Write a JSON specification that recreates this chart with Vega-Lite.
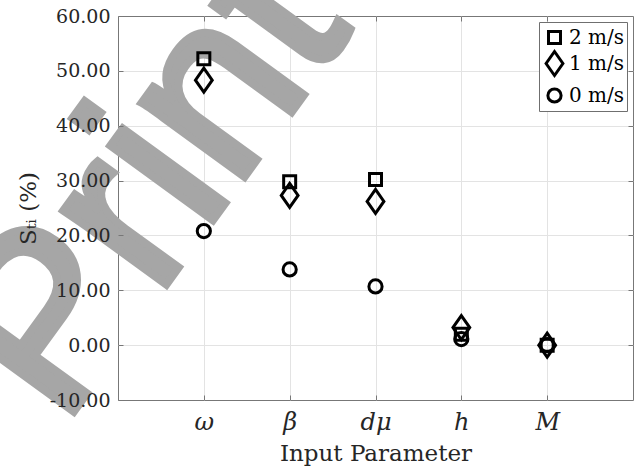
{
  "$schema": "https://vega.github.io/schema/vega-lite/v6.json",
  "width": 515,
  "height": 384,
  "autosize": "none",
  "padding": {"left": 118, "top": 16, "right": 9, "bottom": 70},
  "background": "white",
  "config": {
    "view": {"stroke": "#777777", "strokeWidth": 1},
    "font": "DejaVu Serif"
  },
  "data": {
    "values": [
      {"param": "ω", "speed": "0 m/s", "value": 20.8},
      {"param": "β", "speed": "0 m/s", "value": 13.8},
      {"param": "dμ", "speed": "0 m/s", "value": 10.7},
      {"param": "h", "speed": "0 m/s", "value": 1.1},
      {"param": "M", "speed": "0 m/s", "value": 0.0},
      {"param": "ω", "speed": "2 m/s", "value": 52.2},
      {"param": "β", "speed": "2 m/s", "value": 29.8},
      {"param": "dμ", "speed": "2 m/s", "value": 30.2},
      {"param": "h", "speed": "2 m/s", "value": 2.0},
      {"param": "M", "speed": "2 m/s", "value": 0.0},
      {"param": "ω", "speed": "1 m/s", "value": 48.3},
      {"param": "β", "speed": "1 m/s", "value": 27.3},
      {"param": "dμ", "speed": "1 m/s", "value": 26.2},
      {"param": "h", "speed": "1 m/s", "value": 3.2},
      {"param": "M", "speed": "1 m/s", "value": 0.0}
    ]
  },
  "layer": [
    {
      "data": {"values": [{"label": "Print"}]},
      "mark": {
        "type": "text",
        "font": "Liberation Sans",
        "fontWeight": "normal",
        "fontSize": 240,
        "angle": -54,
        "dx": 6,
        "color": "#a6a6a6",
        "stroke": "#a6a6a6",
        "strokeWidth": 8,
        "strokeJoin": "miter",
        "align": "center",
        "baseline": "alphabetic"
      },
      "encoding": {
        "text": {"field": "label", "type": "nominal"},
        "x": {"datum": "ω", "type": "ordinal", "axis": null,
              "scale": {"domain": ["ω", "β", "dμ", "h", "M"], "padding": 1}},
        "y": {"datum": 20.5, "type": "quantitative", "axis": null,
              "scale": {"domain": [-10, 60], "nice": false, "zero": false}}
      }
    },
    {
      "mark": {"type": "point", "filled": false, "strokeWidth": 3, "size": 576, "color": "black", "opacity": 1},
      "encoding": {
        "x": {
          "field": "param", "type": "ordinal",
          "scale": {"domain": ["ω", "β", "dμ", "h", "M"], "padding": 1},
          "axis": {
            "orient": "bottom", "labelAngle": 0,
            "labelFont": "DejaVu Serif", "labelFontStyle": "italic", "labelFontSize": 24, "labelColor": "#262626",
            "labelPadding": 15, "ticks": true, "tickSize": -5, "tickColor": "#777777",
            "domain": false, "grid": false,
            "title": "Input Parameter", "titleFont": "DejaVu Serif", "titleFontSize": 23,
            "titleFontWeight": "normal", "titleColor": "#262626", "titlePadding": 8, "zindex": 1
          }
        },
        "y": {
          "field": "value", "type": "quantitative",
          "scale": {"domain": [-10, 60], "nice": false, "zero": false},
          "axis": {
            "orient": "left", "values": [-10, 0, 10, 20, 30, 40, 50, 60],
            "labelExpr": "replace(format(datum.value, '.2f'), '−', '-')",
            "labelFont": "DejaVu Serif", "labelFontSize": 19, "labelColor": "#262626",
            "labelPadding": 13, "ticks": true, "tickSize": -5, "tickColor": "#777777",
            "domain": false, "grid": false,
            "title": "Sₜᵢ (%)", "titleFont": "DejaVu Serif", "titleFontSize": 23,
            "titleFontWeight": "normal", "titleColor": "#262626", "titlePadding": 9, "zindex": 1
          }
        },
        "shape": {
          "field": "speed", "type": "nominal",
          "scale": {
            "domain": ["2 m/s", "1 m/s", "0 m/s"],
            "range": [
              "M-0.5,-0.5H0.5V0.5H-0.5Z",
              "M0,-1L0.7,0L0,1L-0.7,0Z",
              "M0.55,0A0.55,0.55,0,1,1,-0.55,0A0.55,0.55,0,1,1,0.55,0Z"
            ]
          },
          "legend": {
            "title": null, "orient": "top-right", "offset": 6, "padding": 2, "rowPadding": -5,
            "fillColor": "white", "strokeColor": "#6f6f6f", "cornerRadius": 0,
            "labelFont": "DejaVu Serif", "labelFontSize": 20, "labelColor": "#000000", "labelOffset": 1,
            "symbolSize": 576, "symbolStrokeWidth": 3, "symbolStrokeColor": "black", "symbolFillColor": "transparent",
            "values": ["2 m/s", "1 m/s", "0 m/s"]
          }
        }
      }
    },
    {
      "mark": {"type": "point", "opacity": 0},
      "encoding": {
        "x": {
          "field": "param", "type": "ordinal",
          "axis": {
            "orient": "top", "labels": false, "domain": false, "title": null,
            "grid": true, "gridColor": "#e3e3e3", "gridWidth": 1,
            "ticks": true, "tickSize": -5, "tickColor": "#777777", "zindex": 0
          }
        },
        "y": {
          "field": "value", "type": "quantitative",
          "axis": {
            "orient": "right", "values": [0, 10, 20, 30, 40, 50], "labels": false, "domain": false, "title": null,
            "grid": true, "gridColor": "#e3e3e3", "gridWidth": 1,
            "ticks": true, "tickSize": -5, "tickColor": "#777777", "zindex": 0
          }
        }
      }
    }
  ],
  "resolve": {"axis": {"x": "independent", "y": "independent"}}
}
